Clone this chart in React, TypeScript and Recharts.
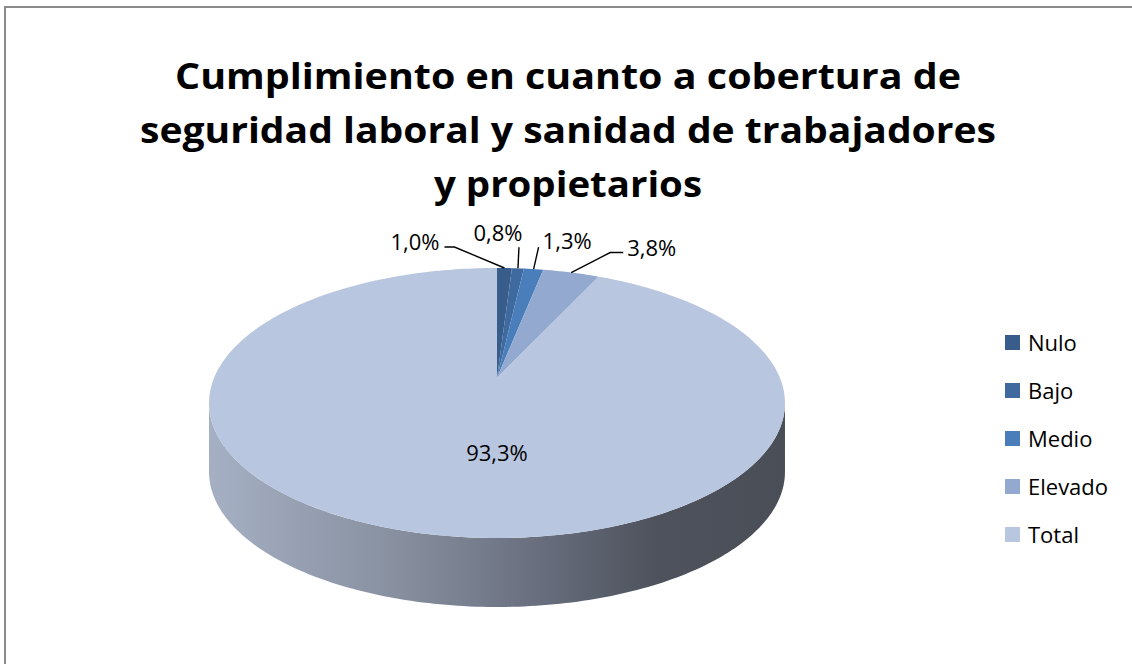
import React from 'react';
import { PieChart, Pie, Cell, Legend } from 'recharts';

const categories = ['Nulo', 'Bajo', 'Medio', 'Elevado', 'Total'];
const values = [1.0, 0.8, 1.3, 3.8, 93.3];
const colors = ['#385D8A', '#3F6A9F', '#4A7EBB', '#93A9CF', '#B9C6E0'];
const titleLines = [
  'Cumplimiento en cuanto a cobertura de',
  'seguridad laboral y sanidad de trabajadores',
  'y propietarios',
];

const data = categories.map((name, i) => ({ name, value: values[i], color: colors[i] }));

// 3D look (style constants)
const PERSP = 0.185;
const TILT = 0.4608;
const DEPTH = 69;
const FONT = '"Open Sans", "Noto Sans", sans-serif';

function proj(cx: number, cy: number, R: number, deg: number, dy = 0): [number, number] {
  const t = (deg * Math.PI) / 180;
  const c = Math.cos(t);
  const s = Math.sin(t);
  const d = 1 + PERSP * s;
  return [cx + (R * c) / d, cy - (R * TILT * s) / d + dy];
}

function arc(cx: number, cy: number, R: number, a0: number, a1: number, dy = 0) {
  const n = Math.max(2, Math.ceil(Math.abs(a1 - a0)));
  const pts: string[] = [];
  for (let i = 0; i <= n; i++) {
    const [x, y] = proj(cx, cy, R, a0 + ((a1 - a0) * i) / n, dy);
    pts.push(`${x.toFixed(2)},${y.toFixed(2)}`);
  }
  return pts;
}

const WALL_A = (Math.asin(PERSP) * 180) / Math.PI;

const Shape3D = (props: any) => {
  const { cx, cy, outerRadius: R, startAngle, endAngle, fill, index } = props;
  const color = props.payload?.color ?? fill;
  const top = `M${cx},${cy} L${arc(cx, cy, R, startAngle, endAngle).join(' L')} Z`;
  const lo = Math.min(startAngle, endAngle);
  const hi = Math.max(startAngle, endAngle);
  const w1 = -180 + WALL_A;
  const w2 = -WALL_A;
  const walls: string[] = [];
  for (let k = -2; k <= 2; k++) {
    const s = Math.max(lo, w1 + 360 * k);
    const e = Math.min(hi, w2 + 360 * k);
    if (e > s) {
      const upper = arc(cx, cy, R, s, e);
      const lower = arc(cx, cy, R, e, s, DEPTH);
      walls.push(`M${upper.join(' L')} L${lower.join(' L')} Z`);
    }
  }
  const gid = `wallGrad${index}`;
  return (
    <g>
      {walls.length > 0 && (
        <defs>
          <linearGradient id={gid} x1="0" y1="0" x2="1" y2="0">
            <stop offset="0" stopColor="#A6B0C4" />
            <stop offset="0.35" stopColor="#858D9D" />
            <stop offset="0.55" stopColor="#6B7181" />
            <stop offset="0.78" stopColor="#4D525C" />
            <stop offset="1" stopColor="#4A4E57" />
          </linearGradient>
        </defs>
      )}
      {walls.map((d, i) => (
        <path key={i} d={d} fill={`url(#${gid})`} stroke="none" />
      ))}
      <path d={top} fill={color} stroke="none" />
    </g>
  );
};

const LABEL_LAYOUT: any[] = [
  { pts: [[-50, -21], [-60, -21]], tx: -65, ty: -27, anchor: 'end' },
  { pts: [[1, -21]], tx: -20, ty: -36, anchor: 'middle' },
  { pts: [[5, -22]], tx: 9, ty: -29, anchor: 'start' },
  { pts: [[39, -20], [52, -20]], tx: 56, ty: -26, anchor: 'start' },
  null,
];

const fmt = (v: number) => `${v.toFixed(1).replace('.', ',')}%`;

const renderLabel = (props: any) => {
  const { cx, cy, midAngle, outerRadius: R, index, value } = props;
  const lay = LABEL_LAYOUT[index];
  if (!lay) {
    return (
      <text
        x={cx}
        y={cy + R * TILT * 0.57}
        textAnchor="middle"
        dominantBaseline="central"
        fontFamily={FONT}
        fontSize={22}
        fill="#000"
      >
        {fmt(value)}
      </text>
    );
  }
  const [ax, ay] = proj(cx, cy, R, midAngle);
  const pts = [[ax, ay], ...lay.pts.map((p: number[]) => [ax + p[0], ay + p[1]])];
  return (
    <g>
      <polyline
        points={pts.map((p) => p.join(',')).join(' ')}
        fill="none"
        stroke="#000"
        strokeWidth={1.4}
      />
      <text
        x={ax + lay.tx}
        y={ay + lay.ty}
        textAnchor={lay.anchor}
        dominantBaseline="central"
        fontFamily={FONT}
        fontSize={22}
        fill="#000"
      >
        {fmt(value)}
      </text>
    </g>
  );
};

const renderLegend = (props: any) => {
  const payload = [...(props.payload || [])].sort(
    (a: any, b: any) => categories.indexOf(a.value) - categories.indexOf(b.value)
  );
  return (
    <div>
      {payload.map((e: any, i: number) => (
        <div
          key={i}
          style={{
            height: 48,
            display: 'flex',
            alignItems: 'center',
            fontFamily: FONT,
            fontSize: 22,
            color: '#000',
            whiteSpace: 'nowrap',
          }}
        >
          <span
            style={{
              display: 'inline-block',
              width: 15,
              height: 15,
              background: e.payload?.color ?? e.color,
              marginRight: 8,
            }}
          />
          {e.value}
        </div>
      ))}
    </div>
  );
};

export default function App() {
  return (
    <div
      style={{
        position: 'fixed',
        left: 0,
        top: 0,
        width: 1132,
        height: 664,
        overflow: 'hidden',
        background: '#fff',
      }}
    >
      <style>{'html,body{margin:0;overflow:hidden;}'}</style>
      <div
        style={{
          position: 'absolute',
          left: 4,
          top: 6,
          width: 1300,
          height: 800,
          borderLeft: '2px solid #8a8a8a',
          borderTop: '2px solid #8a8a8a',
          boxSizing: 'border-box',
        }}
      />
      <div style={{ position: 'absolute', left: 0, top: 0 }}>
        <PieChart width={1132} height={664} margin={{ top: 0, right: 0, bottom: 0, left: 0 }}>
          <Pie
            data={data}
            dataKey="value"
            nameKey="name"
            cx={497}
            cy={378}
            outerRadius={283}
            startAngle={90}
            endAngle={-270}
            stroke="none"
            shape={Shape3D}
            label={renderLabel}
            labelLine={false}
            isAnimationActive={false}
          >
            {data.map((d, i) => (
              <Cell key={i} fill={d.color} />
            ))}
          </Pie>
          <Legend
            layout="vertical"
            align="right"
            verticalAlign="top"
            itemSorter={null as any}
            content={renderLegend}
            wrapperStyle={{ left: 1005, right: 'auto', top: 318, width: 120 }}
          />
        </PieChart>
      </div>
      <svg
        width={1132}
        height={220}
        style={{ position: 'absolute', left: 0, top: 0, pointerEvents: 'none' }}
      >
        {titleLines.map((t, i) => (
          <text
            key={i}
            x={568}
            y={89 + i * 54}
            textAnchor="middle"
            fontFamily={FONT}
            fontWeight={700}
            fontSize={36}
            fill="#000"
            textLength={[786, 856, 268][i]}
            lengthAdjust="spacingAndGlyphs"
          >
            {t}
          </text>
        ))}
      </svg>
    </div>
  );
}
